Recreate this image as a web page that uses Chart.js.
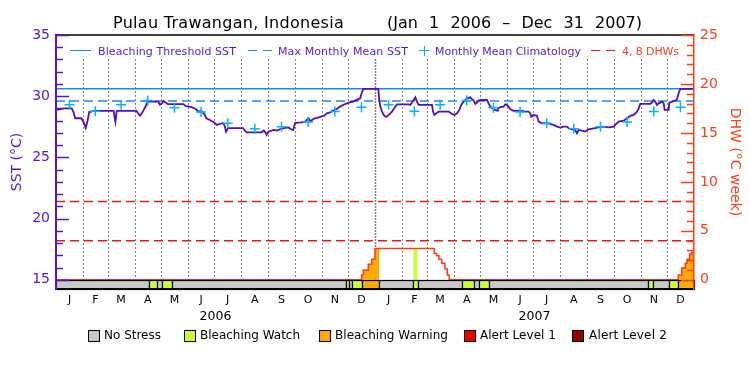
<!DOCTYPE html>
<html>
<head>
<meta charset="utf-8">
<script src="https://cdn.jsdelivr.net/npm/chart.js@4.4.1/dist/chart.umd.min.js"></script>
<style>
  body { margin: 0; background: #fff; }
  #wrap { position: relative; width: 750px; height: 375px; font-family: "DejaVu Sans", sans-serif; }
  #wrap canvas { position: absolute; left: 0; top: 0; }
  .lbl { position: absolute; white-space: nowrap; line-height: 1; }
  .sym { position: absolute; height: 0; border-top: 1.5px solid; }
  .vsym { position: absolute; width: 0; border-left: 1.5px solid; }
  .box { position: absolute; width: 10px; height: 10px; border: 1px solid #000; }
</style>
</head>
<body>
<div id="wrap">
  <canvas id="chart" width="750" height="375"></canvas>

  <div class="lbl" data-w="231" style="left:113px;top:15px;font-size:16px;color:#000">Pulau Trawangan, Indonesia</div>
  <div class="lbl" data-ws="255" style="left:387px;top:15px;font-size:16px;color:#000">(Jan 1 2006 – Dec 31 2007)</div>

  <span class="sym" style="left:70px;top:50px;width:21px;border-color:#2088e8"></span>
  <div class="lbl" data-w="138" style="left:98px;top:46px;font-size:11px;color:#5a14c8">Bleaching Threshold SST</div>
  <span class="sym" style="left:248px;top:50px;width:9px;border-color:#2088e8"></span>
  <span class="sym" style="left:263px;top:50px;width:9px;border-color:#2088e8"></span>
  <div class="lbl" data-w="130" style="left:278px;top:46px;font-size:11px;color:#5a14c8">Max Monthly Mean SST</div>
  <span class="sym" style="left:419px;top:50px;width:10px;border-color:#00b4ff"></span>
  <span class="vsym" style="left:423.5px;top:45.5px;height:10px;border-color:#00b4ff"></span>
  <div class="lbl" data-w="146" style="left:435px;top:46px;font-size:11px;color:#5a14c8">Monthly Mean Climatology</div>
  <span class="sym" style="left:591px;top:50px;width:9px;border-color:#e81818"></span>
  <span class="sym" style="left:606px;top:50px;width:9px;border-color:#e81818"></span>
  <div class="lbl" data-w="57" style="left:622px;top:46px;font-size:11px;color:#ff3d1a">4, 8 DHWs</div>

  <span class="box" style="left:88px;top:330px;background:#c8c8c8"></span>
  <div class="lbl" data-w="57" style="left:104px;top:329px;font-size:12px;color:#000">No Stress</div>
  <span class="box" style="left:184px;top:330px;background:#ccff33"></span>
  <div class="lbl" data-w="100" style="left:200px;top:329px;font-size:12px;color:#000">Bleaching Watch</div>
  <span class="box" style="left:319px;top:330px;background:#ffaa00"></span>
  <div class="lbl" data-w="113" style="left:335px;top:329px;font-size:12px;color:#000">Bleaching Warning</div>
  <span class="box" style="left:464px;top:330px;background:#ee0000"></span>
  <div class="lbl" data-w="76" style="left:480px;top:329px;font-size:12px;color:#000">Alert Level 1</div>
  <span class="box" style="left:572px;top:330px;background:#990000"></span>
  <div class="lbl" data-w="78" style="left:589px;top:329px;font-size:12px;color:#000">Alert Level 2</div>
</div>

<script>
// ---- data (day 0 = Jan 1 2006) ----
const monthLetters = ['J', 'F', 'M', 'A', 'M', 'J', 'J', 'A', 'S', 'O', 'N', 'D'];
const years = [2006, 2007];

// monthly mean climatology, Jan..Dec
const climatology = [29.3, 28.78, 29.3, 29.65, 29.05, 28.7, 27.8, 27.35, 27.5, 27.9, 28.75, 29.1];
const maxMonthlyMean = 29.6;
const bleachingThreshold = 30.6;
const dhwLevels = [4, 8];

const sstDay = [
  0, 10, 18, 20, 22, 29, 32, 34, 36, 38, 44, 66, 67, 68, 69.5, 92, 96, 99, 102, 105,
  117, 119, 121, 123, 125, 128, 146, 148, 155, 159, 163, 167, 170, 172, 176, 180, 184, 188,
  191, 193, 194.5, 197, 214, 216, 218, 235, 238, 240, 241, 243, 249, 253, 256, 261, 266, 269,
  271.5, 273.5, 277, 281, 285, 287, 289, 291, 293, 296, 300, 304, 307, 309.7, 313, 317, 321,
  325, 329, 333, 336, 340, 344, 348, 349.7, 351.6, 368.8,
  369.9, 371.1, 373, 375, 376.8, 378.7, 380.6, 382.5, 384.4, 386.3, 388.2, 390.2, 403.5, 405.4,
  407.3, 409.2, 411.1, 413, 415, 430.2, 431.4, 432.9, 434.8, 437.9, 449.3, 453.1, 456.2, 458.8,
  461.5, 463.7, 466.4, 470.3, 474.1, 476, 477.9, 479.8, 481.7, 483.6, 485.5, 493.1, 495, 496.9,
  499.6, 501.9, 504.6, 505.7, 508.4, 512.2, 514.1, 516, 517.9, 519.8, 523.7, 533.2, 537, 540.8,
  542.7, 543.8, 546.5, 550.3,
  552.2, 556, 563.6, 565.5, 569.4, 573.2, 577, 580.9, 584.7, 586.6, 590.4, 594.2, 596.1, 598,
  601.8, 605.6, 609.4, 615.1, 620.9, 626.6, 632.3, 638.1, 639.9, 643.8, 649.5, 653.3, 657.1,
  660.9, 664.8, 666.7, 668.5, 680, 681.9, 683.8, 685.7, 687.6, 689.5, 691.5, 693.4, 695.3,
  696.4, 701, 701.7, 704.8, 708.6, 710.5, 712.4, 714.3, 730
];
const sstValue = [
  28.88, 29.0, 29.0, 28.7, 28.2, 28.2, 27.8, 27.4, 27.95, 28.7, 28.8, 28.8, 28.3, 27.9, 28.8, 28.8, 28.4, 28.7, 29.1, 29.55,
  29.55, 29.3, 29.4, 29.6, 29.5, 29.35, 29.35, 29.2, 29.1, 29.0, 28.75, 28.75, 28.5, 28.2, 28.05, 27.9, 27.65, 27.75,
  27.8, 27.6, 27.1, 27.4, 27.4, 27.2, 27.05, 27.05, 27.2, 27.0, 26.85, 27.1, 27.25, 27.2, 27.3, 27.4, 27.45, 27.3,
  27.24, 27.8, 27.85, 27.87, 27.9, 28.06, 28.2, 27.95, 28.05, 28.2, 28.25, 28.35, 28.4, 28.6, 28.65, 28.82, 28.93,
  29.15, 29.3, 29.42, 29.5, 29.56, 29.7, 29.83, 30.24, 30.6, 30.6,
  29.7, 29.15, 28.74, 28.47, 28.33, 28.33, 28.47, 28.6, 28.74, 28.93, 29.15, 29.34, 29.34, 29.29,
  29.48, 29.69, 29.91, 29.56, 29.29, 29.29, 28.74, 28.47, 28.6, 28.74, 28.74, 28.55, 28.47, 28.6,
  28.88, 29.29, 29.56, 29.83, 29.91, 29.75, 29.64, 29.37, 29.48, 29.64, 29.69, 29.69, 29.42, 29.15,
  29.01, 28.88, 28.82, 29.0, 29.1, 29.15, 29.34, 29.29, 29.15, 28.93, 28.8, 28.8, 28.74, 28.74,
  28.6, 28.33, 28.47, 28.4,
  27.92, 27.79, 27.79, 27.71, 27.65, 27.52, 27.43, 27.52, 27.52, 27.38, 27.3, 27.24, 26.97, 27.24,
  27.19, 27.11, 27.3, 27.38, 27.46, 27.52, 27.46, 27.52, 27.65, 27.92, 28.0, 28.2, 28.39,
  28.47, 28.74, 29.01, 29.37, 29.37, 29.48, 29.69, 29.56, 29.29, 29.42, 29.48, 29.56, 29.42,
  28.88, 28.88, 29.48, 29.56, 29.64, 29.75, 30.24, 30.6, 30.6
];

// degree heating weeks, each value holds until the next day listed
const dhwDay = [0, 349.7, 351.6, 357.3, 361.2, 365, 432.8, 435.5, 438.2, 441.3, 445, 447.7, 450, 712, 716, 720, 722, 725, 727, 730];
const dhwValue = [0, 0.5, 1.0, 1.6, 2.1, 3.2, 2.7, 2.45, 2.1, 1.7, 1.1, 0.5, 0, 0.5, 1.2, 1.7, 2.1, 2.6, 2.8, 2.8];

// stress level periods: 0 no stress, 1 watch, 2 warning, 3 alert 1, 4 alert 2
const stressStart = [0, 106, 115, 121.6, 133, 331.5, 335.2, 339, 349.7, 370, 408.8, 413.8, 464.2, 478, 484, 495, 677, 683.5, 701.7, 712];
const stressEnd = [106, 115, 121.6, 133, 331.5, 335.2, 339, 349.7, 370, 408.8, 413.8, 464.2, 478, 484, 495, 677, 683.5, 701.7, 712, 730];
const stressLevel = [0, 1, 0, 1, 0, 1, 0, 1, 2, 0, 1, 0, 1, 0, 1, 0, 1, 0, 1, 2];

// ---- styles ----
const purple = '#5a14c8';
const orangeRed = '#ff3d1a';
const stressColors = ['#c8c8c8', '#ccff33', '#ffaa00', '#ee0000', '#990000'];

Chart.defaults.font.family = "'DejaVu Sans', sans-serif";

const day0 = Date.UTC(2006, 0, 1);
const dayOf = (y, m, d) => (Date.UTC(y, m, d) - day0) / 864e5;
const lastDay = dayOf(years[years.length - 1] + 1, 0, 1);

const monthStarts = [];
const monthMids = [];
years.forEach(y => {
  for (let m = 0; m < 12; m++) {
    const s = dayOf(y, m, 1), e = dayOf(y, m + 1, 1);
    monthStarts.push(s);
    monthMids.push((s + e) / 2);
  }
});
const yearMids = years.map(y => (dayOf(y, 0, 1) + dayOf(y + 1, 0, 1)) / 2);

function dhwAt(d) {
  let v = 0;
  dhwDay.forEach((dd, i) => { if (dd <= d) v = dhwValue[i]; });
  return v;
}

// DHW area coloured by the stress level of each period
const fillSets = [];
stressStart.forEach((s, i) => {
  const e = stressEnd[i];
  if (stressLevel[i] === 0) return;
  const pts = [{ x: s, y: dhwAt(s) }];
  dhwDay.forEach((d, j) => { if (d > s && d < e) pts.push({ x: d, y: dhwValue[j] }); });
  pts.push({ x: e, y: dhwAt(e - 1e-6) });
  if (!pts.some(p => p.y > 0)) return;
  fillSets.push({
    data: pts, yAxisID: 'y2', stepped: true, borderWidth: 0,
    backgroundColor: stressColors[stressLevel[i]], fill: 'origin', order: 10
  });
});

const flat = (v) => [{ x: 0, y: v }, { x: lastDay, y: v }];

const datasets = [
  {
    label: 'Monthly Mean Climatology',
    data: monthMids.map((d, i) => ({ x: d, y: climatology[i % 12] })),
    showLine: false, pointStyle: 'cross', pointRadius: 5, borderColor: '#00b4ff',
    pointBorderWidth: 1.5, order: 0
  },
  {
    label: 'SST', data: sstDay.map((d, i) => ({ x: d, y: sstValue[i] })),
    borderColor: '#5010c0', borderWidth: 1.8, order: 1
  },
  { label: 'Bleaching Threshold SST', data: flat(bleachingThreshold), borderColor: '#2088e8', borderWidth: 1.5, order: 2 },
  { label: 'Max Monthly Mean SST', data: flat(maxMonthlyMean), borderColor: '#2088e8', borderWidth: 1.5, borderDash: [9, 5], order: 2 },
  ...dhwLevels.map(v => ({ label: v + ' DHW', data: flat(v), yAxisID: 'y2', borderColor: '#e81818', borderWidth: 1.5, borderDash: [9, 5], order: 3 })),
  {
    label: 'DHW', data: dhwDay.map((d, i) => ({ x: d, y: dhwValue[i] })), yAxisID: 'y2',
    stepped: true, borderColor: orangeRed, borderWidth: 1.5, order: 4
  },
  ...fillSets
];

const extras = {
  id: 'extras',
  beforeDatasetsDraw(chart) {
    const { ctx, chartArea: a, scales: { x, y } } = chart;
    ctx.save();
    ctx.strokeStyle = '#000';
    ctx.lineWidth = 1;
    monthStarts.forEach(d => {
      if (d <= 0) return;
      const px = Math.round(x.getPixelForValue(d)) + 0.5;
      ctx.setLineDash(d === 365 ? [1, 2] : [1, 3]);
      ctx.lineWidth = d === 365 ? 1.5 : 1;
      ctx.beginPath();
      ctx.moveTo(px, y.getPixelForValue(33));
      ctx.lineTo(px, a.bottom);
      ctx.stroke();
    });
    ctx.restore();
  },
  afterDatasetsDraw(chart) {
    const { ctx, chartArea: a, scales: { x, y2 } } = chart;
    const top = Math.round(y2.getPixelForValue(0)) + 0.5;
    const bottom = Math.round(a.bottom) + 0.5;
    ctx.save();
    ctx.strokeStyle = '#000';
    ctx.lineWidth = 1.2;
    stressStart.forEach((s, i) => {
      const x1 = Math.round(x.getPixelForValue(s)) + 0.5;
      const x2 = Math.round(x.getPixelForValue(stressEnd[i])) + 0.5;
      ctx.fillStyle = stressColors[stressLevel[i]];
      ctx.fillRect(x1, top, x2 - x1, bottom - top);
      ctx.strokeRect(x1, top, x2 - x1, bottom - top);
    });
    ctx.restore();
  },
  afterDraw(chart) {
    const { ctx, chartArea: a, scales: { y, y2 } } = chart;
    ctx.save();
    ctx.lineWidth = 1.5;
    ctx.strokeStyle = '#000';
    ctx.beginPath();
    ctx.moveTo(a.left, a.top);
    ctx.lineTo(a.right, a.top);
    ctx.stroke();
    ctx.strokeStyle = purple;
    for (let v = 15; v <= 35; v++) {
      const py = Math.round(y.getPixelForValue(v)) + 0.5;
      ctx.beginPath();
      ctx.moveTo(a.left, py);
      ctx.lineTo(a.left + (v % 5 === 0 ? 13 : 7), py);
      ctx.stroke();
    }
    ctx.strokeStyle = orangeRed;
    for (let v = 0; v <= 25; v++) {
      const py = Math.round(y2.getPixelForValue(v)) + 0.5;
      ctx.beginPath();
      ctx.moveTo(a.right, py);
      ctx.lineTo(a.right - (v % 5 === 0 ? 13 : 7), py);
      ctx.stroke();
    }
    ctx.restore();
  }
};

new Chart(document.getElementById('chart'), {
  type: 'line',
  data: { datasets },
  options: {
    responsive: false,
    animation: false,
    devicePixelRatio: 1,
    layout: { padding: { top: 35, bottom: 51, left: 0, right: 0 } },
    plugins: { legend: { display: false }, tooltip: { enabled: false } },
    elements: { point: { radius: 0 }, line: { tension: 0 } },
    scales: {
      x: {
        type: 'linear', min: 0, max: lastDay, position: 'bottom', weight: 1,
        grid: { display: false, drawTicks: false },
        border: { color: '#000', width: 1.5, z: 1 },
        afterBuildTicks: s => { s.ticks = monthMids.map(v => ({ value: v })); },
        afterFit: s => { s.height = 18; },
        ticks: {
          autoSkip: false, maxRotation: 0, padding: 5, color: '#000', font: { size: 11 },
          callback: (v, i) => monthLetters[i % 12]
        }
      },
      xYear: {
        type: 'linear', min: 0, max: lastDay, position: 'bottom', weight: 2,
        grid: { display: false, drawTicks: false },
        border: { display: false },
        afterBuildTicks: s => { s.ticks = yearMids.map(v => ({ value: v })); },
        afterFit: s => { s.height = 17; },
        ticks: {
          autoSkip: false, maxRotation: 0, padding: 2, color: '#000', font: { size: 12.5 },
          callback: (v, i) => String(years[i])
        }
      },
      y: {
        type: 'linear', position: 'left', min: 14.25, max: 35,
        grid: { display: false, drawTicks: false },
        border: { color: purple, width: 2, z: 1 },
        afterBuildTicks: s => { s.ticks = [15, 20, 25, 30, 35].map(v => ({ value: v })); },
        afterFit: s => { s.width = 56; },
        ticks: { color: purple, padding: 6, font: { size: 14 } },
        title: { display: true, text: 'SST (°C)', color: purple, font: { size: 14 }, padding: { top: 9, bottom: 0 } }
      },
      y2: {
        type: 'linear', position: 'right', min: -0.9375, max: 25,
        grid: { display: false, drawTicks: false },
        border: { color: orangeRed, width: 1.5, z: 1 },
        afterBuildTicks: s => { s.ticks = [0, 5, 10, 15, 20, 25].map(v => ({ value: v })); },
        afterFit: s => { s.width = 56; },
        ticks: { color: orangeRed, padding: 6, font: { size: 14 } },
        title: { display: true, text: 'DHW (°C week)', color: orangeRed, font: { size: 14 }, padding: { top: 7, bottom: 0 } }
      }
    }
  },
  plugins: [extras]
});

// stretch the html labels to the widths measured on the reference
document.querySelectorAll('[data-w]').forEach(el => {
  const w = el.getBoundingClientRect().width;
  el.style.letterSpacing = ((+el.dataset.w - w) / el.textContent.length) + 'px';
});
document.querySelectorAll('[data-ws]').forEach(el => {
  const w = el.getBoundingClientRect().width;
  const gaps = el.textContent.split(' ').length - 1;
  el.style.wordSpacing = ((+el.dataset.ws - w) / gaps) + 'px';
});
</script>
</body>
</html>
